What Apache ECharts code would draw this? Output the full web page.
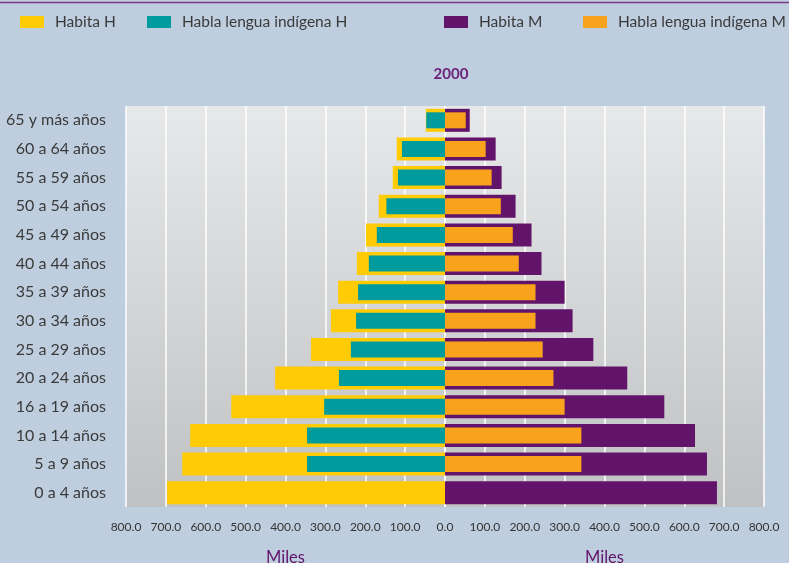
<!DOCTYPE html>
<html>
<head>
<meta charset="utf-8">
<script src="https://cdn.jsdelivr.net/npm/echarts@6/dist/echarts.min.js"></script>
<style>
  html, body { margin: 0; padding: 0; background: #bfcedf; }
  #chart { width: 789px; height: 563px; }
</style>
</head>
<body>
<div id="chart"></div>
<script>
// age groups, bottom to top
const categories = ['0 a 4 años', '5 a 9 años', '10 a 14 años', '16 a 19 años', '20 a 24 años',
  '25 a 29 años', '30 a 34 años', '35 a 39 años', '40 a 44 años', '45 a 49 años',
  '50 a 54 años', '55 a 59 años', '60 a 64 años', '65 y más años']
// miles de personas
const habitaH = [697, 659, 639, 536, 426, 336, 286, 268, 221, 198, 166, 131, 121, 48]
const hablaH = [0, 346, 346, 303, 266, 236, 223, 218, 191, 171, 147, 118, 108, 47]
const habitaM = [682, 657, 627, 550, 457, 372, 320, 300, 242, 217, 177, 142, 127, 62]
const hablaM = [0, 342, 342, 300, 272, 245, 227, 227, 185, 170, 140, 117, 102, 52]
const xTicks = [0, 100, 200, 300, 400, 500, 600, 700, 800]

const FONT = 'Lato, "Open Sans", sans-serif'
const purple = '#62146a'

const plotBg = () => new echarts.graphic.LinearGradient(0, 0, 0, 1, [
  { offset: 0, color: '#e7e8e9' },
  { offset: 1, color: '#c0c1c2' }
])

const legendAt = (name, left) => ({
  data: [name],
  left: left,
  top: 14,
  padding: 0,
  itemWidth: 24,
  itemHeight: 12,
  icon: 'rect',
  textStyle: { color: '#3a3a3a', fontSize: 15.5, fontFamily: FONT, padding: [0, 0, 0, 6] }
})

const xAxisFor = (gridIndex, inverse) => ({
  type: 'value',
  gridIndex: gridIndex,
  inverse: inverse,
  min: xTicks[0],
  max: xTicks[xTicks.length - 1],
  interval: 100,
  name: 'Miles',
  nameLocation: 'middle',
  nameGap: 42,
  nameTextStyle: { color: purple, fontSize: 16.5, fontFamily: FONT },
  axisLine: { show: false },
  axisTick: { show: false },
  axisLabel: {
    color: '#333',
    fontSize: 12,
    fontFamily: FONT,
    margin: 14,
    formatter: (v) => (inverse && v === 0) ? '' : v.toFixed(1)
  },
  splitLine: { show: true, lineStyle: { color: '#ffffff', width: 1.5 } }
})

const yAxisFor = (gridIndex, showLabels) => ({
  type: 'category',
  gridIndex: gridIndex,
  data: categories,
  axisLine: { show: false, onZero: false },
  axisTick: { show: false },
  splitLine: { show: false },
  axisLabel: showLabels
    ? { show: true, color: '#3a3a3a', fontSize: 16, fontFamily: FONT, margin: 20 }
    : { show: false }
})

const barSeries = (name, data, xi, yi, color, width) => ({
  name: name,
  type: 'bar',
  xAxisIndex: xi,
  yAxisIndex: yi,
  data: data,
  barWidth: width,
  itemStyle: { color: color },
  silent: true
})

const gridAt = (left) => ({
  left: left,
  top: 106,
  width: 319,
  height: 401,
  outerBoundsMode: 'none',
  containLabel: false,
  show: true,
  borderWidth: 0,
  backgroundColor: plotBg()
})

const option = {
  animation: false,
  backgroundColor: '#bfcedf',
  title: {
    text: '2000',
    left: 446,
    top: 62,
    textAlign: 'center',
    textStyle: { color: '#6b2279', fontSize: 15, fontWeight: 'bold', fontFamily: FONT }
  },
  legend: [
    legendAt('Habita H', 20),
    legendAt('Habla lengua indígena H', 147),
    legendAt('Habita M', 444),
    legendAt('Habla lengua indígena M', 583)
  ],
  graphic: [{
    type: 'line',
    shape: { x1: 0, y1: 2.5, x2: 789, y2: 2.5 },
    style: { stroke: '#7a3a88', lineWidth: 1.5 }
  }],
  grid: [gridAt(126), gridAt(445)],
  xAxis: [xAxisFor(0, true), xAxisFor(1, false)],
  yAxis: [yAxisFor(0, true), yAxisFor(0, false), yAxisFor(1, false), yAxisFor(1, false)],
  series: [
    barSeries('Habita H', habitaH, 0, 0, '#ffcb05', 23),
    barSeries('Habla lengua indígena H', hablaH, 0, 1, '#009b9c', 16),
    barSeries('Habita M', habitaM, 1, 2, '#62146a', 23),
    barSeries('Habla lengua indígena M', hablaM, 1, 3, '#f9a31d', 16)
  ]
}

const chartInstance = echarts.init(document.getElementById('chart'))
chartInstance.setOption(option)
</script>
</body>
</html>
